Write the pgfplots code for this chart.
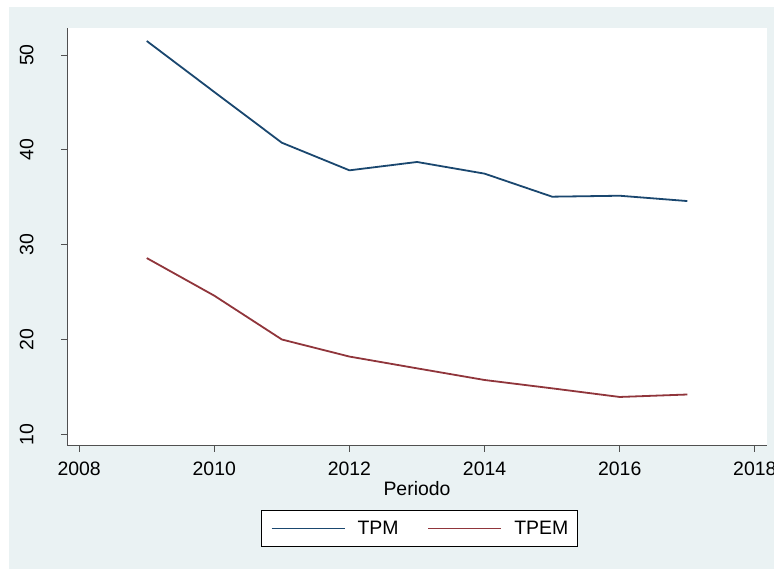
\documentclass[border=0pt]{standalone}
\usepackage{fontspec}
\setmainfont{Liberation Sans}
\usepackage{pgfplots}
\pgfplotsset{compat=1.18}
\definecolor{statabg}{RGB}{234,242,243}
\definecolor{statanavy}{RGB}{26,71,111}
\definecolor{statamaroon}{RGB}{144,53,59}
\definecolor{axisgray}{RGB}{80,80,80}
\begin{document}
\begin{tikzpicture}[x=1bp,y=1bp]
\path[use as bounding box] (0,0) rectangle (774,569);
\fill[statabg] (9,0) rectangle (774,562);
\begin{axis}[
  at={(67bp,123bp)}, anchor=south west,
  scale only axis, width=700bp, height=418bp,
  xmin=2007.82, xmax=2018.18, ymin=8.77, ymax=52.85,
  axis x line*=bottom, axis y line*=left,
  axis line style={axisgray, line width=1bp, -},
  axis background/.style={fill=white},
  xtick={2008,2010,...,2018}, ytick={10,20,...,50},
  tick align=outside, major tick length=6bp,
  tick style={axisgray, line width=0.8bp},
  /pgf/number format/assume math mode=true,
  /pgf/number format/1000 sep={},
  font=\fontsize{19.5}{22}\selectfont,
  xticklabel style={anchor=north, yshift=-6bp},
  yticklabel style={rotate=90, anchor=south, yshift=24bp},
  xlabel={Periodo},
  xlabel style={at={(axis description cs:0.5,0)}, anchor=north, yshift=-32bp},
  legend columns=2,
  legend style={at={(axis description cs:0.5036,-0.1974)}, anchor=center,
    draw=black, fill=white, line width=0.8bp, inner xsep=9bp, inner ysep=10.5bp,
    font=\fontsize{19.5}{22}\selectfont,
    nodes={inner sep=0pt},
    /tikz/every odd column/.append style={column sep=12bp},
    /tikz/every even column/.append style={column sep=29bp}},
  legend image code/.code={\draw[#1] (0bp,0bp) -- (73bp,0bp);},
  every axis plot/.append style={line width=1.8bp},
]
\addplot[statanavy, no marks] coordinates {
(2009,51.48) (2010,46.1) (2011,40.75) (2012,37.84) (2013,38.72) (2014,37.49) (2015,35.06) (2016,35.16) (2017,34.6)};
\addlegendentry{TPM}
\addplot[statamaroon, no marks] coordinates {
(2009,28.59) (2010,24.62) (2011,20.0) (2012,18.2) (2013,16.96) (2014,15.73) (2015,14.85) (2016,13.94) (2017,14.2)};
\addlegendentry{TPEM}
\end{axis}
\end{tikzpicture}
\end{document}
